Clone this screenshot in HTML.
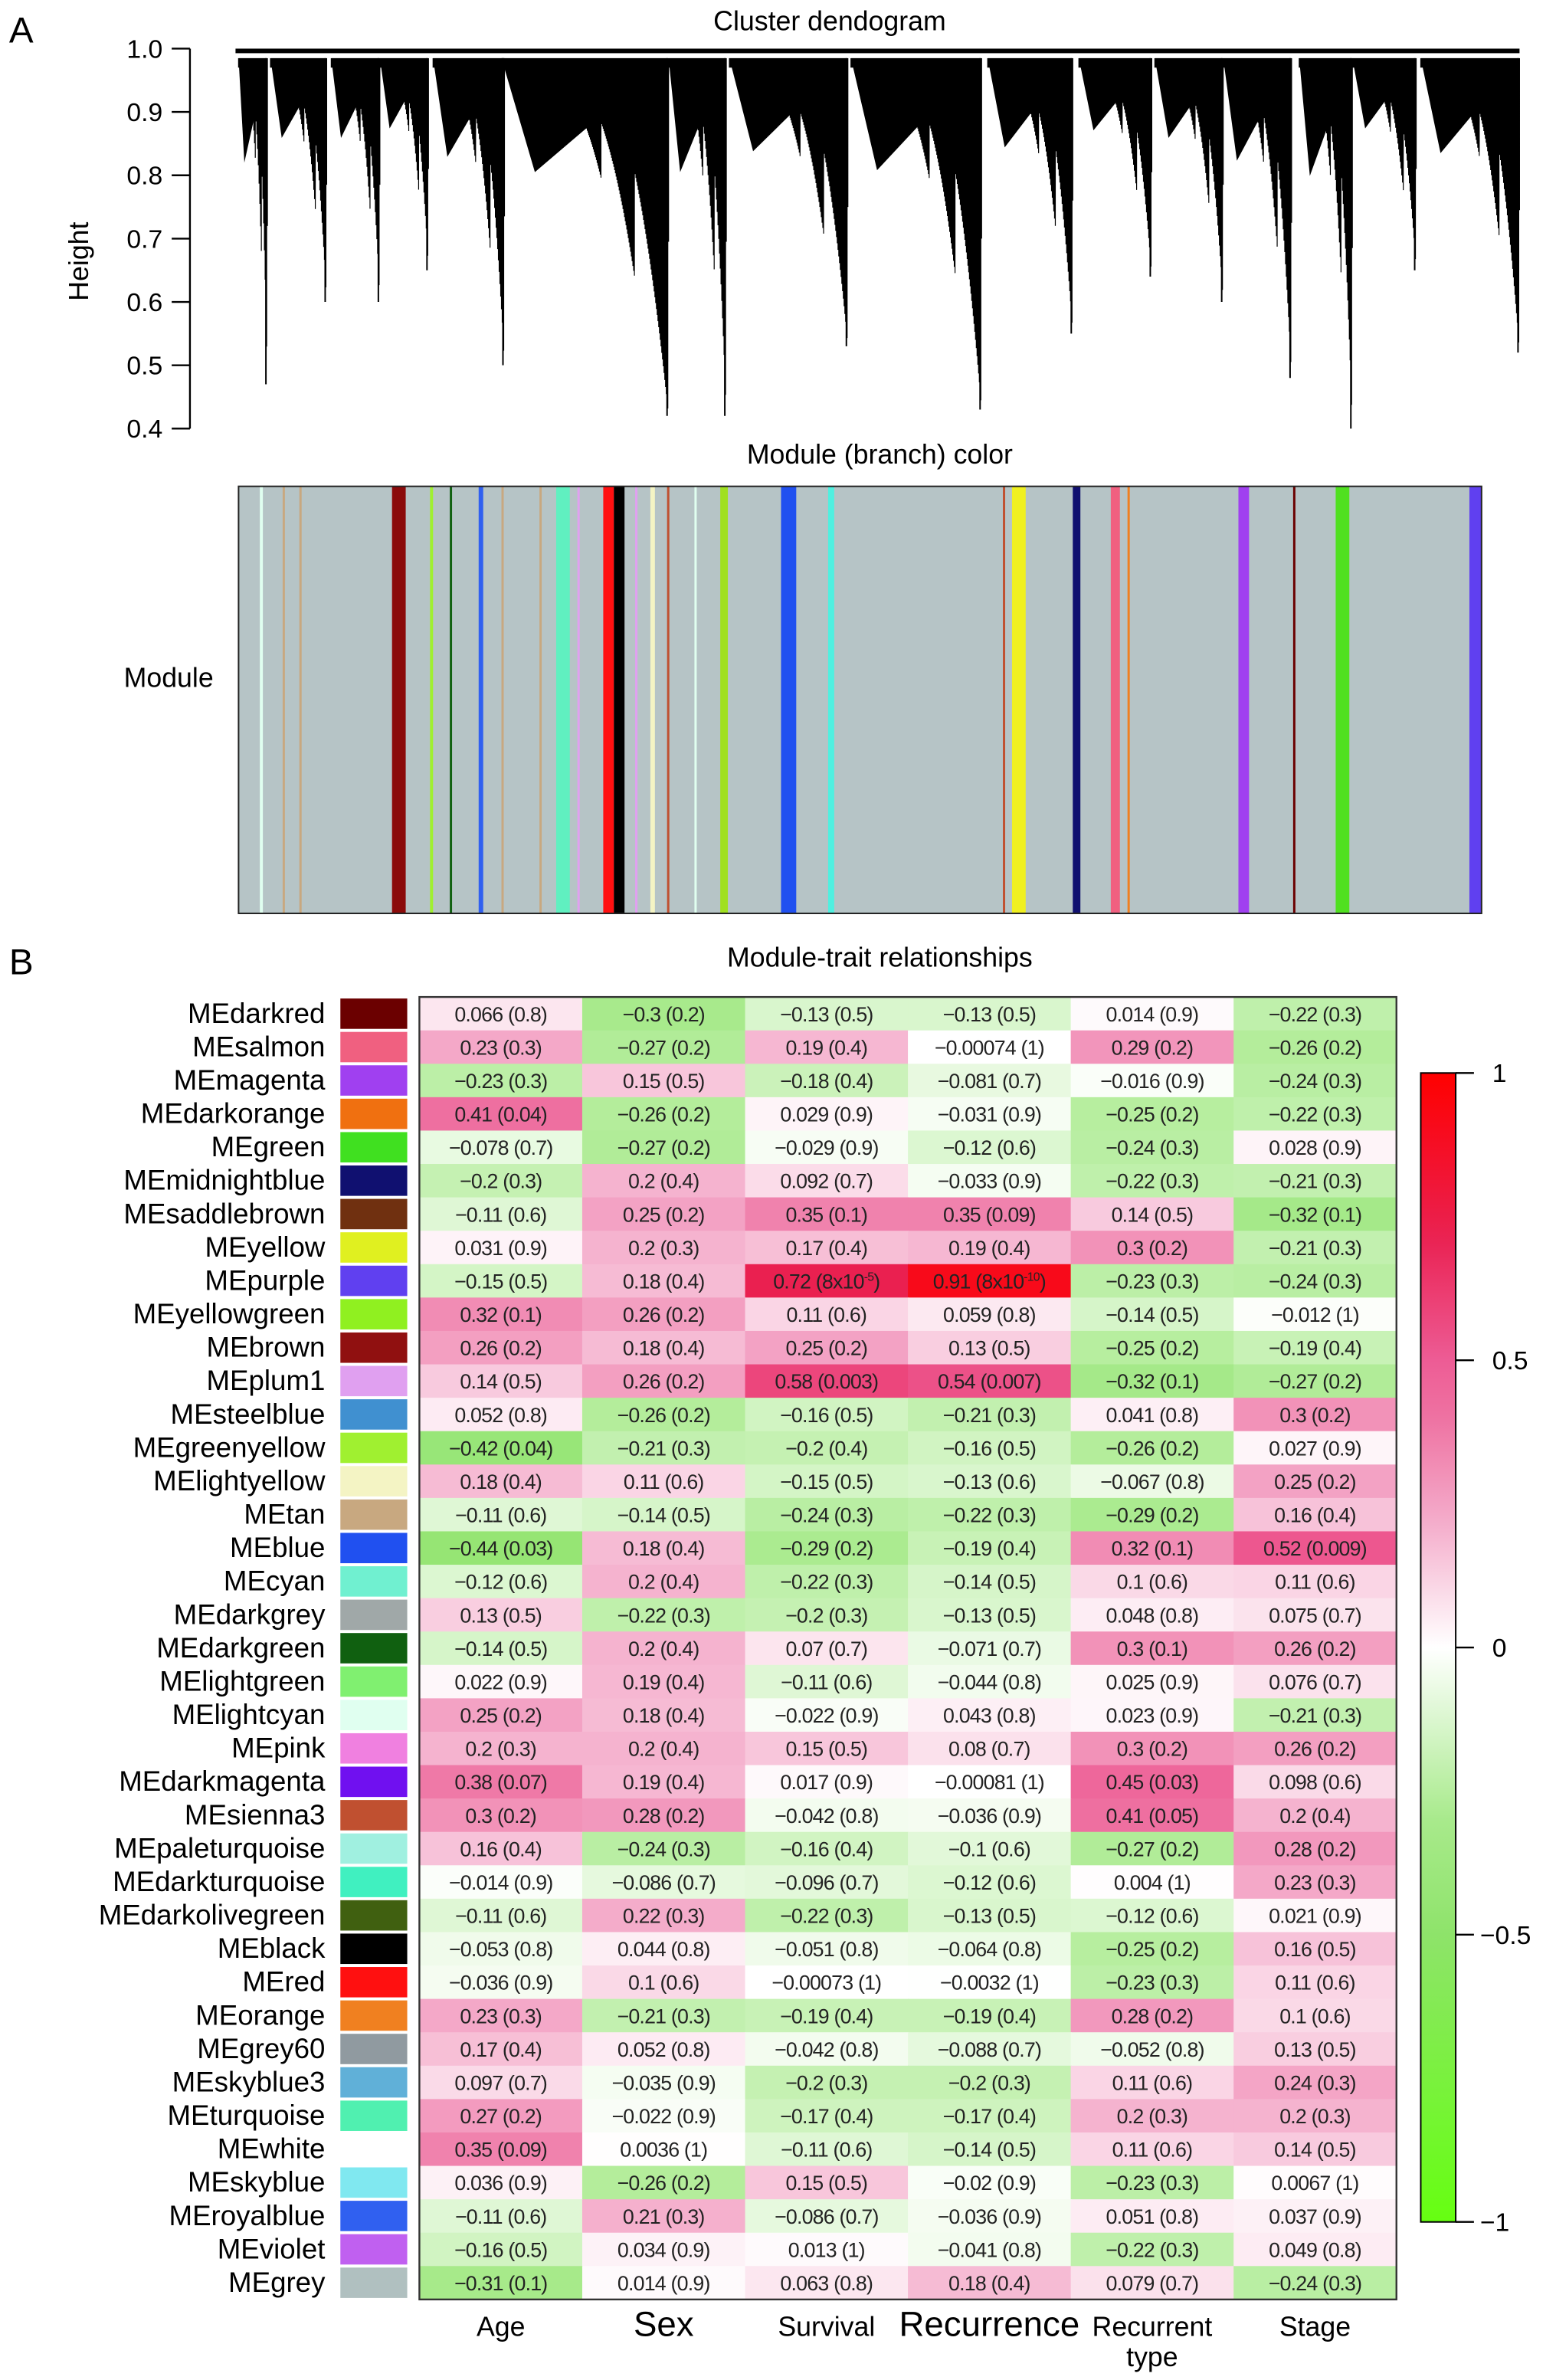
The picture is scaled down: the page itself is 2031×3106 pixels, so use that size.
<!DOCTYPE html>
<html><head><meta charset="utf-8"><title>WGCNA</title>
<style>html,body{margin:0;padding:0;background:#fff}svg{display:block}text{font-family:"Liberation Sans",sans-serif}</style></head>
<body>
<svg id="fig" xmlns="http://www.w3.org/2000/svg" width="2031" height="3106" viewBox="0 0 1024 1566" preserveAspectRatio="none">
<rect x="0" y="0" width="1024" height="1566" fill="#fff"/>
<text x="6" y="28" font-size="24">A</text>
<text x="546" y="20" font-size="18" text-anchor="middle">Cluster dendogram</text>
<g id="dendro"></g>
<g id="yaxis"></g>
<text transform="translate(58,172) rotate(-90)" font-size="18" text-anchor="middle">Height</text>
<text x="579" y="305" font-size="18" text-anchor="middle">Module (branch) color</text>
<text x="111" y="452" font-size="18" text-anchor="middle">Module</text>
<g id="modband"></g>
<text x="6" y="641" font-size="24">B</text>
<text x="579" y="636" font-size="18" text-anchor="middle">Module-trait relationships</text>
<g id="heat"></g>
<g id="cbar"></g>
</svg>
<script>
const traits=["Age","Sex","Survival","Recurrence","Recurrent type","Stage"];
const modules=["MEdarkred","MEsalmon","MEmagenta","MEdarkorange","MEgreen","MEmidnightblue","MEsaddlebrown","MEyellow","MEpurple","MEyellowgreen","MEbrown","MEplum1","MEsteelblue","MEgreenyellow","MElightyellow","MEtan","MEblue","MEcyan","MEdarkgrey","MEdarkgreen","MElightgreen","MElightcyan","MEpink","MEdarkmagenta","MEsienna3","MEpaleturquoise","MEdarkturquoise","MEdarkolivegreen","MEblack","MEred","MEorange","MEgrey60","MEskyblue3","MEturquoise","MEwhite","MEskyblue","MEroyalblue","MEviolet","MEgrey"];
const swatches=["#6b0000","#f06080","#a040f0","#f07010","#40e020","#101070","#703010","#e0f020","#6040f0","#90f020","#901010","#e0a0f0","#4090d0","#a0f030","#f4f4c4","#c8a880","#2050f0","#70f0d0","#a0a8a8","#106010","#80f070","#e0fff0","#f080e0","#7010f0","#c05030","#a0f0e0","#40f0c0","#406010","#000000","#ff1010","#f08020","#909aa0","#60b0d8","#50f0b0","#ffffff","#80e8f0","#3060f0","#c060f0","#b0c0c0"];
const corr=[
["0.066","-0.3","-0.13","-0.13","0.014","-0.22"],
["0.23","-0.27","0.19","-0.00074","0.29","-0.26"],
["-0.23","0.15","-0.18","-0.081","-0.016","-0.24"],
["0.41","-0.26","0.029","-0.031","-0.25","-0.22"],
["-0.078","-0.27","-0.029","-0.12","-0.24","0.028"],
["-0.2","0.2","0.092","-0.033","-0.22","-0.21"],
["-0.11","0.25","0.35","0.35","0.14","-0.32"],
["0.031","0.2","0.17","0.19","0.3","-0.21"],
["-0.15","0.18","0.72","0.91","-0.23","-0.24"],
["0.32","0.26","0.11","0.059","-0.14","-0.012"],
["0.26","0.18","0.25","0.13","-0.25","-0.19"],
["0.14","0.26","0.58","0.54","-0.32","-0.27"],
["0.052","-0.26","-0.16","-0.21","0.041","0.3"],
["-0.42","-0.21","-0.2","-0.16","-0.26","0.027"],
["0.18","0.11","-0.15","-0.13","-0.067","0.25"],
["-0.11","-0.14","-0.24","-0.22","-0.29","0.16"],
["-0.44","0.18","-0.29","-0.19","0.32","0.52"],
["-0.12","0.2","-0.22","-0.14","0.1","0.11"],
["0.13","-0.22","-0.2","-0.13","0.048","0.075"],
["-0.14","0.2","0.07","-0.071","0.3","0.26"],
["0.022","0.19","-0.11","-0.044","0.025","0.076"],
["0.25","0.18","-0.022","0.043","0.023","-0.21"],
["0.2","0.2","0.15","0.08","0.3","0.26"],
["0.38","0.19","0.017","-0.00081","0.45","0.098"],
["0.3","0.28","-0.042","-0.036","0.41","0.2"],
["0.16","-0.24","-0.16","-0.1","-0.27","0.28"],
["-0.014","-0.086","-0.096","-0.12","0.004","0.23"],
["-0.11","0.22","-0.22","-0.13","-0.12","0.021"],
["-0.053","0.044","-0.051","-0.064","-0.25","0.16"],
["-0.036","0.1","-0.00073","-0.0032","-0.23","0.11"],
["0.23","-0.21","-0.19","-0.19","0.28","0.1"],
["0.17","0.052","-0.042","-0.088","-0.052","0.13"],
["0.097","-0.035","-0.2","-0.2","0.11","0.24"],
["0.27","-0.022","-0.17","-0.17","0.2","0.2"],
["0.35","0.0036","-0.11","-0.14","0.11","0.14"],
["0.036","-0.26","0.15","-0.02","-0.23","0.0067"],
["-0.11","0.21","-0.086","-0.036","0.051","0.037"],
["-0.16","0.034","0.013","-0.041","-0.22","0.049"],
["-0.31","0.014","0.063","0.18","0.079","-0.24"]];
const pvals=[
["0.8","0.2","0.5","0.5","0.9","0.3"],
["0.3","0.2","0.4","1","0.2","0.2"],
["0.3","0.5","0.4","0.7","0.9","0.3"],
["0.04","0.2","0.9","0.9","0.2","0.3"],
["0.7","0.2","0.9","0.6","0.3","0.9"],
["0.3","0.4","0.7","0.9","0.3","0.3"],
["0.6","0.2","0.1","0.09","0.5","0.1"],
["0.9","0.3","0.4","0.4","0.2","0.3"],
["0.5","0.4","8x10^-5","8x10^-10","0.3","0.3"],
["0.1","0.2","0.6","0.8","0.5","1"],
["0.2","0.4","0.2","0.5","0.2","0.4"],
["0.5","0.2","0.003","0.007","0.1","0.2"],
["0.8","0.2","0.5","0.3","0.8","0.2"],
["0.04","0.3","0.4","0.5","0.2","0.9"],
["0.4","0.6","0.5","0.6","0.8","0.2"],
["0.6","0.5","0.3","0.3","0.2","0.4"],
["0.03","0.4","0.2","0.4","0.1","0.009"],
["0.6","0.4","0.3","0.5","0.6","0.6"],
["0.5","0.3","0.3","0.5","0.8","0.7"],
["0.5","0.4","0.7","0.7","0.1","0.2"],
["0.9","0.4","0.6","0.8","0.9","0.7"],
["0.2","0.4","0.9","0.8","0.9","0.3"],
["0.3","0.4","0.5","0.7","0.2","0.2"],
["0.07","0.4","0.9","1","0.03","0.6"],
["0.2","0.2","0.8","0.9","0.05","0.4"],
["0.4","0.3","0.4","0.6","0.2","0.2"],
["0.9","0.7","0.7","0.6","1","0.3"],
["0.6","0.3","0.3","0.5","0.6","0.9"],
["0.8","0.8","0.8","0.8","0.2","0.5"],
["0.9","0.6","1","1","0.3","0.6"],
["0.3","0.3","0.4","0.4","0.2","0.6"],
["0.4","0.8","0.8","0.7","0.8","0.5"],
["0.7","0.9","0.3","0.3","0.6","0.3"],
["0.2","0.9","0.4","0.4","0.3","0.3"],
["0.09","1","0.6","0.5","0.6","0.5"],
["0.9","0.2","0.5","0.9","0.3","1"],
["0.6","0.3","0.7","0.9","0.8","0.9"],
["0.5","0.9","1","0.8","0.3","0.8"],
["0.1","0.9","0.8","0.4","0.7","0.3"]];
const clusterStart=[157,178,218,250,285,330,440,480,560,650,710,760,805,855,890,935];
const clusterEnd=[176,215,250,282,332,440,478,558,646,706,758,805,850,890,932,1000];
const clusterMin=[0.47,0.6,0.6,0.65,0.5,0.42,0.42,0.53,0.43,0.55,0.64,0.6,0.48,0.4,0.65,0.52];
const heightTicks=[1.0,0.9,0.8,0.7,0.6,0.5,0.4];
const bandX=[171,186,197,258,283,296,315,330,355,366,380,397,404,418,428,439,457,474,514,545,660,666,706,731,742,815,851,879,967];
const bandW=[2,1.5,1.5,9,2,1.5,3,1.5,1.5,9,1.5,7,7,1.5,3,1.5,1.5,5,10,4,1.5,9,5,6,1.5,7,1.5,9,8];
const bandC=["#e0fff0","#c8a880","#c8a880","#8b0a0a","#a0f030","#106010","#3060f0","#c8a880","#c8a880","#60f0c0","#e0a0f0","#ff1010","#000000","#e0a0f0","#f4f4c4","#c05030","#e0fff0","#a0e020","#2050f0","#50f0e0","#c05030","#f0f020","#101070","#f06080","#f08020","#a040f0","#6b0000","#50e020","#6040f0"];
const cbTicks=[1,0.5,0,-0.5,-1];

const NS="http://www.w3.org/2000/svg";
function mk(tag,attrs,parent){const e=document.createElementNS(NS,tag);for(const k in attrs)e.setAttribute(k,attrs[k]);parent.appendChild(e);return e;}
function hy(h){return 32+(1.0-h)/0.6*250;}
function hex(c){return [parseInt(c.slice(1,3),16),parseInt(c.slice(3,5),16),parseInt(c.slice(5,7),16)];}
const negStops=[[0,"#ffffff"],[0.3,"#a8ea8c"],[0.5,"#8ee36a"],[1,"#66ff11"]];
const posStops=[[0,"#ffffff"],[0.23,"#f4a8c8"],[0.41,"#ee6fa0"],[0.5,"#ed5c95"],[0.72,"#ea2050"],[1,"#ff0000"]];
function col(v){const s=v<0?negStops:posStops;const t=Math.min(1,Math.abs(v));for(let i=1;i<s.length;i++){if(t<=s[i][0]){const f=(t-s[i-1][0])/(s[i][0]-s[i-1][0]);const a=hex(s[i-1][1]),b=hex(s[i][1]);return "rgb("+a.map((x,j)=>Math.round(x+(b[j]-x)*f)).join(",")+")";}}return s[s.length-1][1];}

const dg=document.getElementById("dendro");
const topY=hy(0.985);
let r=mk("rect",{x:155,y:hy(1.0),width:845,height:3,fill:"#000"},dg);


clusterStart.forEach((x0,i)=>{
  const x1=clusterEnd[i],mn=clusterMin[i];
  let d="";
  const n=Math.round((x1-x0)*2);
  for(let k=0;k<=n;k++){
    const t=k/n;const sub=(t*5)%1;
    const base=0.97-(0.97-mn)*Math.pow(t,2.2);
    const h=base+(1-sub)*(0.97-base)*0.5;
    d+="M"+(x0+(x1-x0)*t).toFixed(2)+" "+topY.toFixed(1)+"V"+hy(h).toFixed(1);
  }
  const p=mk("path",{d:d,stroke:"#000","stroke-width":0.6,fill:"none"},dg);
  
  
  const poly=mk("polygon",{points:x0+","+topY+" "+x1+","+topY+" "+(x0+(x1-x0)*0.2)+","+hy(0.97-(0.97-mn)*0.3),fill:"#000"},dg);
  
  
  const deep=mk("line",{x1:x1-1,y1:topY,x2:x1-1,y2:hy(mn),stroke:"#000","stroke-width":1},dg);
  
  
});
const ya=document.getElementById("yaxis");
mk("line",{x1:125,y1:hy(1.0),x2:125,y2:hy(0.4),stroke:"#000","stroke-width":1.2},ya);
heightTicks.forEach(h=>{
  mk("line",{x1:113,y1:hy(h),x2:125,y2:hy(h),stroke:"#000","stroke-width":1.2},ya);
  const t=mk("text",{x:107,y:hy(h)+6,"font-size":17,"text-anchor":"end"},ya);
  t.textContent=h.toFixed(1);
  
  
});
const mb=document.getElementById("modband");
mk("rect",{x:157,y:320,width:818,height:281,fill:"#b6c4c6"},mb);
bandX.forEach((x,i)=>{
  const b=mk("rect",{x:x,y:320,width:bandW[i],height:281,fill:bandC[i]},mb);
  
  
});
mk("rect",{x:157,y:320,width:818,height:281,fill:"none",stroke:"#222","stroke-width":1},mb);
const hg=document.getElementById("heat");
const X0=276,X1=919,Y0=656,Y1=1513;
const cw=(X1-X0)/traits.length,rh=(Y1-Y0)/modules.length;
function cx(j){return X0+j*cw;}function ry(i){return Y0+i*rh;}
modules.forEach((m,i)=>{
  const sw=mk("rect",{x:224,y:ry(i)+1,width:44,height:rh-2,fill:swatches[i]},hg);
  
  
  const lb=mk("text",{x:214,y:ry(i)+rh/2+6,"font-size":18.5,"text-anchor":"end"},hg);
  lb.textContent=m;
  
  
  traits.forEach((tr,j)=>{
    const v=parseFloat(corr[i][j]);
    const c=mk("rect",{x:cx(j),y:ry(i),width:cw+0.5,height:rh+0.5,fill:col(v)},hg);
    
    
    const t=mk("text",{x:cx(j)+cw/2,y:ry(i)+rh/2+5,"font-size":13.5,"letter-spacing":-0.4,"text-anchor":"middle",fill:"#222",style:'font-family:"Liberation Sans Narrow","Liberation Sans",sans-serif'},hg);
    
    
    const p=pvals[i][j];
    if(p.indexOf("^")>=0){const parts=p.split("^");
      t.appendChild(document.createTextNode(corr[i][j].replace("-","\u2212")+" ("+parts[0]));
      const s=mk("tspan",{"font-size":8,dy:-5},t);s.textContent=parts[1];
      const e=mk("tspan",{dy:5},t);e.textContent=")";
    } else t.textContent=corr[i][j].replace("-","\u2212")+" ("+p+")";
  });
});
mk("rect",{x:X0,y:Y0,width:X1-X0,height:Y1-Y0,fill:"none",stroke:"#333","stroke-width":1.2},hg);
const labSize=[18,23,18,23,18,18];
traits.forEach((tr,j)=>{
  const t=mk("text",{x:cx(j)+cw/2,y:1537,"font-size":labSize[j],"text-anchor":"middle"},hg);
  
  
  if(tr==="Recurrent type"){t.textContent="Recurrent";const s=mk("tspan",{x:cx(j)+cw/2,dy:20},t);s.textContent="type";}
  else t.textContent=tr;
});
const cb=document.getElementById("cbar");
const defs=mk("defs",{},cb);
const g=mk("linearGradient",{id:"cg",x1:0,y1:0,x2:0,y2:1},defs);
for(let k=0;k<=40;k++){const v=1-k/20;mk("stop",{offset:(k/40),"stop-color":col(v)},g);}
const CY0=706,CY1=1462;
function cby(v){return CY0+(1-v)/2*(CY1-CY0);}
mk("rect",{x:935,y:CY0,width:23,height:CY1-CY0,fill:"url(#cg)",stroke:"#000","stroke-width":1},cb);
cbTicks.forEach(v=>{
  mk("line",{x1:958,y1:cby(v),x2:970,y2:cby(v),stroke:"#000","stroke-width":1.2},cb);
  const t=mk("text",{x:v<0?974:982,y:cby(v)+6,"font-size":17},cb);
  t.textContent=v===0?"0":(v<0?"\u2212":"")+Math.abs(v);
  
  
});
</script>
</body></html>
